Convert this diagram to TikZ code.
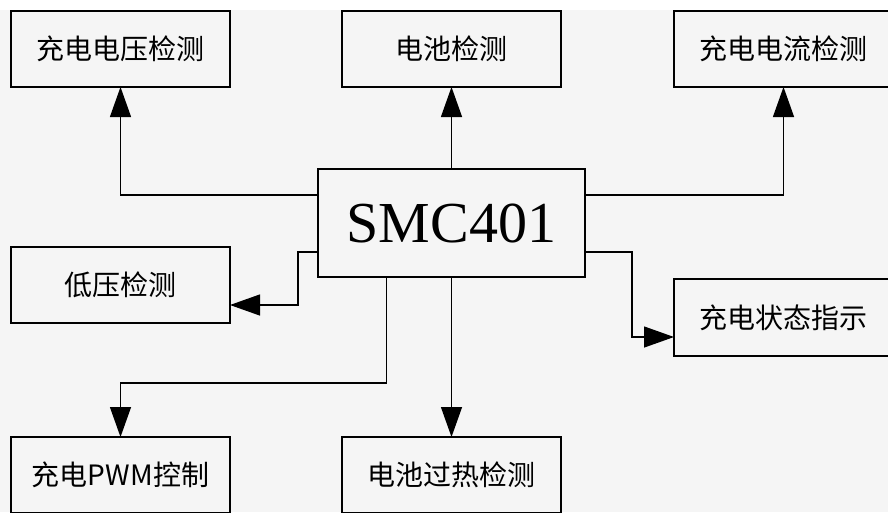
\documentclass[tikz,border=0pt]{standalone}
\usepackage{fontspec}
\setmainfont{Liberation Serif}
\newfontfamily\cjk{Noto Sans CJK SC}
\usepackage{tikz}
\usetikzlibrary{arrows.meta,calc}
\definecolor{bggray}{HTML}{F5F5F5}

\begin{document}
\begin{tikzpicture}[x=1pt,y=-1pt,
    line width=1.3pt,
    blockbox/.style={draw,fill=bggray,minimum width=219pt,minimum height=76pt,
        inner sep=0pt,outer sep=0pt,font=\cjk\fontsize{28}{30}\selectfont},
    chipbox/.style={draw,fill=bggray,minimum width=267pt,minimum height=108pt,
        inner sep=0pt,outer sep=0pt,font=\fontsize{58}{60}\selectfont},
    arr/.style={-{Triangle[length=30pt,width=21pt]}}]
\useasboundingbox (0,0) rectangle (888,512);
\fill[white] (0,0) rectangle (888,10);
\fill[bggray] (0,10) rectangle (888,512);
% blocks
\node[blockbox] (vol) at (120.5,49) {充电电压检测};
\node[blockbox] (bat) at (451.5,49) {电池检测};
\node[blockbox] (cur) at (783.5,49) {充电电流检测};
\node[chipbox] (smc) at (451.5,223) {SMC401};
\node[blockbox] (low) at (120.5,285) {低压检测};
\node[blockbox,minimum height=77pt] (sta) at (783.5,317.5) {充电状态指示};
\node[blockbox] (pwm) at (120.5,475) {充电PWM控制};
\node[blockbox] (hot) at (451.5,475) {电池过热检测};
% connectors
\draw[arr] ([yshift=28pt]smc.west) -| (vol.south);
\draw[arr] (smc.north) -- (bat.south);
\draw[arr] ([yshift=28pt]smc.east) -| (cur.south);
\draw[arr] ([yshift=-29pt]smc.west) -- ++(-20pt,0) |- ([yshift=-20pt]low.east);
\draw[arr] ([yshift=-29pt]smc.east) -- ++(47pt,0) |- ([yshift=-19.5pt]sta.west);
\draw[arr] ([xshift=-65pt]smc.south) -- ++(0,-106pt) -| (pwm.north);
\draw[arr] (smc.south) -- (hot.north);
\end{tikzpicture}
\end{document}
